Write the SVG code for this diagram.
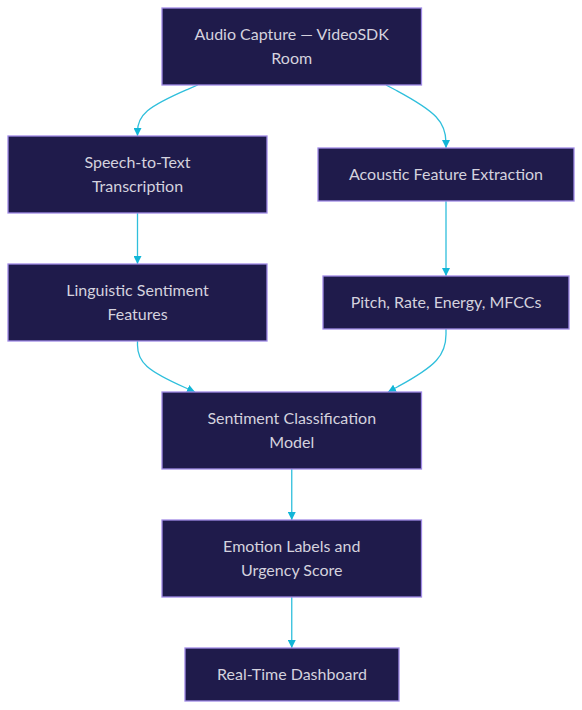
<svg xmlns="http://www.w3.org/2000/svg" width="582" height="710" viewBox="0 0 582 710">
<style>
.node rect{fill:#1f1b4b;stroke:#a08ae6;stroke-width:1.3}
.node text{font-family:Lato,"Noto Sans",sans-serif;font-size:16px;fill:#d4d2de;text-anchor:middle}
.edge{fill:none;stroke:#2fbfdc;stroke-width:1.3}
</style>
<defs>
<marker id="arr" viewBox="0 0 10 10" refX="10" refY="5" markerUnits="userSpaceOnUse" markerWidth="8" markerHeight="8" orient="auto">
<path d="M0,0 L10,5 L0,10 z" fill="#12b6d7"/>
</marker>
</defs>
<rect width="582" height="710" fill="#ffffff"/>
<g id="edges">
<path class="edge" marker-end="url(#arr)" d="M197.7,85 L187.7,89.3 C177.6,93.7 157.6,102.3 147.5,110.8 C137.5,119.3 137.5,127.7 137.5,131.8 L137.5,136"/>
<path class="edge" marker-end="url(#arr)" d="M386,85 L396,90.3 C406,95.7 426,106.3 436,116.8 C446,127.3 446,137.7 446,142.8 L446,148"/>
<path class="edge" marker-end="url(#arr)" d="M137.5,213 L137.5,264"/>
<path class="edge" marker-end="url(#arr)" d="M446,201 L446,276"/>
<path class="edge" marker-end="url(#arr)" d="M137.5,341 L137.5,345.25 C137.5,349.5 137.5,358 147.1,366.5 C156.7,375 175.8,383.5 185.4,387.75 L195,392"/>
<path class="edge" marker-end="url(#arr)" d="M446,329 L446,334.25 C446,339.5 446,350 436.3,360.5 C426.7,371 407.3,381.5 397.7,386.75 L388,392"/>
<path class="edge" marker-end="url(#arr)" d="M291.75,469 L291.75,520"/>
<path class="edge" marker-end="url(#arr)" d="M291.75,597 L291.75,648"/>
</g>
<g id="audio" class="node"><rect x="162" y="8" width="259.5" height="77"/><text x="291.75" y="40">Audio Capture — VideoSDK</text><text x="291.75" y="64">Room</text></g>
<g id="stt" class="node"><rect x="8" y="136" width="259" height="77"/><text x="137.5" y="168">Speech-to-Text</text><text x="137.5" y="192">Transcription</text></g>
<g id="acoustic" class="node"><rect x="318" y="148" width="256" height="53"/><text x="446" y="180">Acoustic Feature Extraction</text></g>
<g id="linguistic" class="node"><rect x="8" y="264" width="259" height="77"/><text x="137.5" y="296">Linguistic Sentiment</text><text x="137.5" y="320">Features</text></g>
<g id="pitch" class="node"><rect x="323" y="276" width="246" height="53"/><text x="446" y="308">Pitch, Rate, Energy, MFCCs</text></g>
<g id="classifier" class="node"><rect x="162" y="392" width="259.5" height="77"/><text x="291.75" y="424">Sentiment Classification</text><text x="291.75" y="448">Model</text></g>
<g id="emotion" class="node"><rect x="162" y="520" width="259.5" height="77"/><text x="291.75" y="552">Emotion Labels and</text><text x="291.75" y="576">Urgency Score</text></g>
<g id="dashboard" class="node"><rect x="185" y="648" width="214" height="53"/><text x="292" y="680">Real-Time Dashboard</text></g>
</svg>
